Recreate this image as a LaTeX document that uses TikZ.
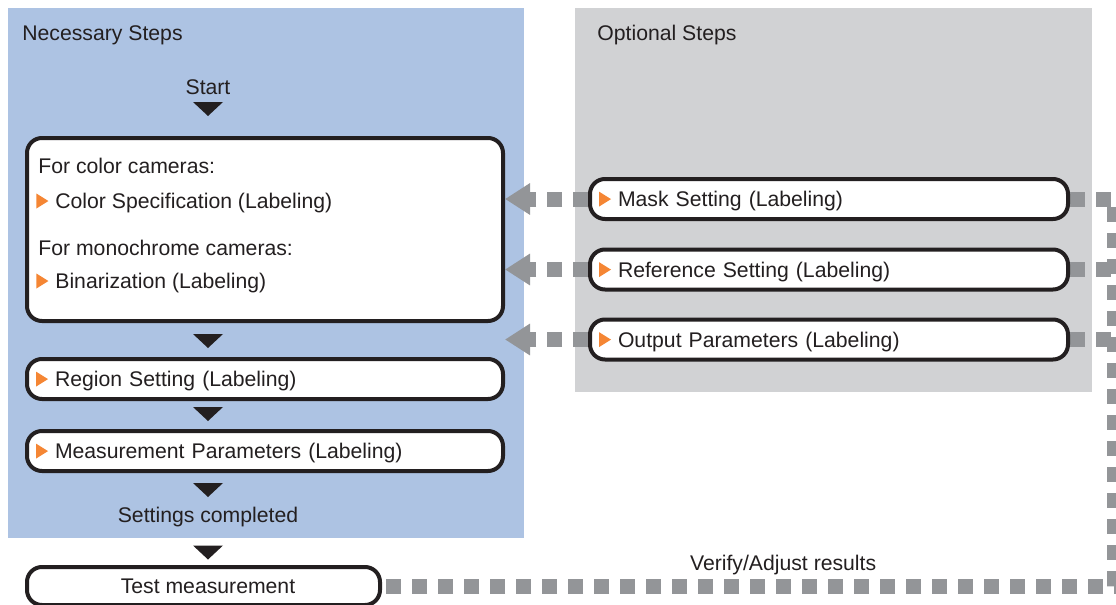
\documentclass[tikz,border=0pt]{standalone}
\usepackage{fontspec}
\setmainfont{Liberation Sans}
\usepackage{xcolor}
\usepackage{tikz}
\usetikzlibrary{arrows.meta,positioning,calc}

\definecolor{necblue}{RGB}{173,195,227}
\definecolor{optgray}{RGB}{209,210,212}
\definecolor{flowgray}{RGB}{147,149,152}
\definecolor{markorange}{RGB}{245,134,52}
\definecolor{inkdark}{RGB}{35,31,32}

\pgfdeclarelayer{background}
\pgfsetlayers{background,main}

\newcommand{\stepmark}{\tikz[baseline=0pt]\path[fill=markorange,draw=none,sharp corners] (0,0) -- (0,7.5pt) -- (6pt,3.75pt) -- cycle;\hspace{3.5pt}}

\begin{document}
\begin{tikzpicture}[x=0.5pt,y=-0.5pt,
  font=\fontsize{10.6pt}{12.8pt}\selectfont, text=inkdark,
  stepbox/.style={draw=inkdark,line width=2pt,rounded corners=7.5pt,fill=white,
    minimum height=20pt,inner xsep=4.5pt,inner ysep=0pt,text height=7.6pt,text depth=0pt},
  leftbox/.style={stepbox,align=left,text width=#1},
  plaintext/.style={inner sep=0pt,anchor=base west},
  dashflow/.style={draw=flowgray,line width=7.5pt,dash pattern=on 7.5pt off 5.5pt},
  backarrow/.style={dashflow,-{Triangle[length=12.5pt,width=15pt]}},
  downmark/.pic={\fill[inkdark] (-7.5pt,3.5pt) -- (7.5pt,3.5pt) -- (0,-3.5pt) -- cycle;}]
  \useasboundingbox (0,0) rectangle (1116,605);

  % necessary steps
  \node[plaintext] (nectitle) at (22,40) {Necessary Steps};
  \node[inner sep=0pt,anchor=base] (start) at (208,94.5) {Start};
  \pic at (208,109) {downmark};
  \node[stepbox,minimum width=238pt,minimum height=91.5pt] (colorbox) at (265,229.5) {};
  \node[plaintext] (colorhead) at (38,173.5) {For color cameras:};
  \node[plaintext] (colorstep) at (36,208.5) {\stepmark Color Specification (Labeling)};
  \node[plaintext] (monohead) at (38,255.5) {For monochrome cameras:};
  \node[plaintext] (monostep) at (36,288.5) {\stepmark Binarization (Labeling)};
  \pic at (208,341) {downmark};
  \node[leftbox=229pt] (region) at (265,379) {\stepmark Region Setting (Labeling)};
  \pic at (208,414) {downmark};
  \node[leftbox=229pt] (measure) at (265,451) {\stepmark Measurement Parameters (Labeling)};
  \pic at (208,490) {downmark};
  \node[inner sep=0pt,anchor=base] (done) at (208,522) {Settings completed};
  \pic at (208,552.5) {downmark};
  \node[stepbox,minimum width=176.5pt,minimum height=19pt] (test) at (203.5,586) {\hspace*{4.5pt}Test measurement};

  % optional steps
  \node[plaintext] (opttitle) at (597,40) {Optional Steps};
  \node[leftbox=230pt] (mask) at (829,199) {\stepmark Mask Setting (Labeling)};
  \node[leftbox=230pt] (reference) at (829,269.5) {\stepmark Reference Setting (Labeling)};
  \node[leftbox=230pt] (output) at (829,339.5) {\stepmark Output Parameters (Labeling)};

  \coordinate (rtop) at (1114,199);
  \coordinate (rbot) at (1114,586);
  \path (rbot) -- (test.east) node[pos=0.452,anchor=base,yshift=8pt,inner sep=0pt] (verify) {Verify/Adjust results};

  \begin{pgfonlayer}{background}
    \fill[necblue] (8,8) rectangle (524,538);
    \fill[optgray] (575,8) rectangle (1092,392);
    \draw[backarrow] (mask.west) -- (mask.west -| colorbox.east);
    \draw[backarrow] (reference.west) -- (reference.west -| colorbox.east);
    \draw[backarrow] (output.west) -- (output.west -| colorbox.east);
    \draw[dashflow] (mask.east) -- (rtop) -- (rbot) -- (test.east);
    \draw[dashflow] (reference.east) -- (reference.east -| rtop);
    \draw[dashflow] (output.east) -- (output.east -| rtop);
  \end{pgfonlayer}
\end{tikzpicture}
\end{document}
